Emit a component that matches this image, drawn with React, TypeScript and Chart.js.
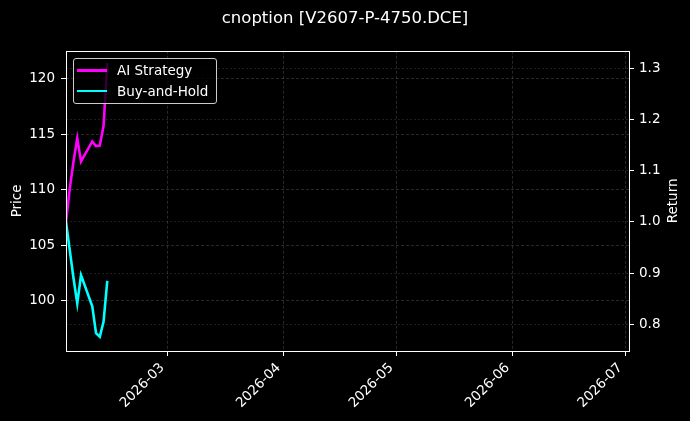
import React, { useEffect, useRef } from 'react';
import { Chart, registerables } from 'chart.js';

Chart.register(...registerables);

// ---- data ----
const TITLE = 'cnoption [V2607-P-4750.DCE]';
const dates = [
  '2026-02-02', '2026-02-03', '2026-02-04', '2026-02-05', '2026-02-06',
  '2026-02-09', '2026-02-10', '2026-02-11', '2026-02-12', '2026-02-13',
];
const aiStrategy = [1.0, 1.065, 1.118, 1.163, 1.118, 1.157, 1.148, 1.149, 1.187, 1.31];
const buyAndHold = [1.0, 0.945, 0.89, 0.841, 0.896, 0.835, 0.783, 0.776, 0.805, 0.885];
const monthTicks = ['2026-03-01', '2026-04-01', '2026-05-01', '2026-06-01', '2026-07-01'];
const xStart = '2026-02-02';
const xEnd = '2026-07-02';
const priceTicks = [100, 105, 110, 115, 120];
const priceMin = 95.5;
const priceMax = 122.5;
const returnTicks = [0.8, 0.9, 1.0, 1.1, 1.2, 1.3];
const returnMin = 0.748;
const returnMax = 1.334;
const LEFT_TITLE = 'Price';
const RIGHT_TITLE = 'Return';

const toMs = (s: string) => Date.parse(s + 'T00:00:00Z');
const FONT = 'DejaVu Sans';
const GRID = 'rgba(255,255,255,0.2)';

const framePlugin = {
  id: 'frame',
  beforeDraw(chart: any) {
    const { ctx, width, height } = chart;
    ctx.save();
    ctx.fillStyle = '#000';
    ctx.fillRect(0, 0, width, height);
    ctx.restore();
  },
  afterDraw(chart: any) {
    const { ctx, chartArea, width } = chart;
    const { left, top, right, bottom } = chartArea;
    ctx.save();
    ctx.strokeStyle = '#ffffff';
    ctx.lineWidth = 1;
    ctx.strokeRect(Math.round(left) + 0.5, Math.round(top) + 0.5, Math.round(right - left), Math.round(bottom - top));
    // right axis title, reading bottom-to-top
    ctx.fillStyle = '#ffffff';
    ctx.font = `13.5px "${FONT}"`;
    ctx.textAlign = 'center';
    ctx.textBaseline = 'middle';
    ctx.translate(width - 17, (top + bottom) / 2);
    ctx.rotate(-Math.PI / 2);
    ctx.fillText(RIGHT_TITLE, 0, 0);
    ctx.restore();
  },
};

export default function App() {
  const ref = useRef<HTMLCanvasElement | null>(null);

  useEffect(() => {
    document.body.style.margin = '0';
    document.body.style.background = '#000';
    const canvas = ref.current!;
    const xs = dates.map(toMs);
    const chart = new Chart(canvas, {
      type: 'line',
      data: {
        datasets: [
          {
            label: 'AI Strategy',
            data: xs.map((x, i) => ({ x, y: aiStrategy[i] })),
            borderColor: '#ff00ff',
            backgroundColor: '#ff00ff',
            borderWidth: 2.6,
            pointRadius: 0,
            tension: 0,
            yAxisID: 'y1',
          },
          {
            label: 'Buy-and-Hold',
            data: xs.map((x, i) => ({ x, y: buyAndHold[i] })),
            borderColor: '#00ffff',
            backgroundColor: '#00ffff',
            borderWidth: 2.6,
            pointRadius: 0,
            tension: 0,
            yAxisID: 'y1',
          },
        ],
      },
      options: {
        animation: false,
        responsive: false,
        events: [],
        layout: { padding: 0 },
        plugins: {
          legend: { display: false },
          tooltip: { enabled: false },
          title: {
            display: true,
            text: TITLE,
            color: '#ffffff',
            font: { family: FONT, size: 16.5, weight: 'normal', lineHeight: 1.2 },
            padding: { top: 9, bottom: 22 },
          },
        },
        scales: {
          x: {
            type: 'linear',
            min: toMs(xStart),
            max: toMs(xEnd),
            afterBuildTicks: (scale: any) => {
              scale.ticks = monthTicks.map((m) => ({ value: toMs(m) }));
            },
            afterFit: (scale: any) => {
              scale.height = 70;
            },
            ticks: {
              autoSkip: false,
              minRotation: 45,
              maxRotation: 45,
              color: '#ffffff',
              font: { family: FONT, size: 13.5 },
              padding: 4,
              labelOffset: -5,
              callback: (v: any) => new Date(Number(v)).toISOString().slice(0, 7),
            },
            grid: {
              color: GRID,
              lineWidth: 0.8,
              tickColor: '#ffffff',
              tickLength: 5,
              tickWidth: 1,
            },
            border: { display: false, dash: [3, 2] },
          },
          y: {
            type: 'linear',
            position: 'left',
            min: priceMin,
            max: priceMax,
            afterBuildTicks: (scale: any) => {
              scale.ticks = priceTicks.map((v) => ({ value: v }));
            },
            afterFit: (scale: any) => {
              scale.width = 66;
            },
            ticks: {
              color: '#ffffff',
              font: { family: FONT, size: 13.5 },
              padding: 6,
              callback: (v: any) => String(Math.round(Number(v))),
            },
            title: {
              display: true,
              text: LEFT_TITLE,
              color: '#ffffff',
              font: { family: FONT, size: 13.5 },
              padding: { top: 9, bottom: 0 },
            },
            grid: {
              color: GRID,
              lineWidth: 0.8,
              tickColor: '#ffffff',
              tickLength: 5,
              tickWidth: 1,
            },
            border: { display: false, dash: [3, 2] },
          },
          y1: {
            type: 'linear',
            position: 'right',
            min: returnMin,
            max: returnMax,
            afterBuildTicks: (scale: any) => {
              scale.ticks = returnTicks.map((v) => ({ value: v }));
            },
            afterFit: (scale: any) => {
              scale.width = 61;
            },
            ticks: {
              color: '#ffffff',
              font: { family: FONT, size: 13.5 },
              padding: 5,
              callback: (v: any) => Number(v).toFixed(1),
            },
            grid: {
              color: 'rgba(255,255,255,0.15)',
              lineWidth: 0.8,
              tickColor: '#ffffff',
              tickLength: 5,
              tickWidth: 1,
            },
            border: { display: false, dash: [2, 2] },
          },
        },
      } as any,
      plugins: [framePlugin],
    });
    return () => chart.destroy();
  }, []);

  const legendRow = (label: string, color: string, top: number) => (
    <div key={label}>
      <div
        style={{
          position: 'absolute',
          left: 3,
          top: top - 1,
          width: 30,
          height: 2.6,
          background: color,
        }}
      />
      <div
        style={{
          position: 'absolute',
          left: 43,
          top: top - 9,
          lineHeight: '18px',
          whiteSpace: 'nowrap',
        }}
      >
        {label}
      </div>
    </div>
  );

  return (
    <div style={{ position: 'fixed', left: 0, top: 0, width: 690, height: 421, background: '#000' }}>
      <canvas ref={ref} width={690} height={421} style={{ display: 'block', width: 690, height: 421 }} />
      <div
        style={{
          position: 'absolute',
          left: 73,
          top: 58,
          width: 144,
          height: 46,
          boxSizing: 'border-box',
          border: '1px solid #cccccc',
          borderRadius: 3,
          background: 'rgba(0,0,0,0.8)',
          color: '#ffffff',
          fontFamily: FONT,
          fontSize: 13.5,
        }}
      >
        {legendRow('AI Strategy', '#ff00ff', 11)}
        {legendRow('Buy-and-Hold', '#00ffff', 31.5)}
      </div>
    </div>
  );
}
